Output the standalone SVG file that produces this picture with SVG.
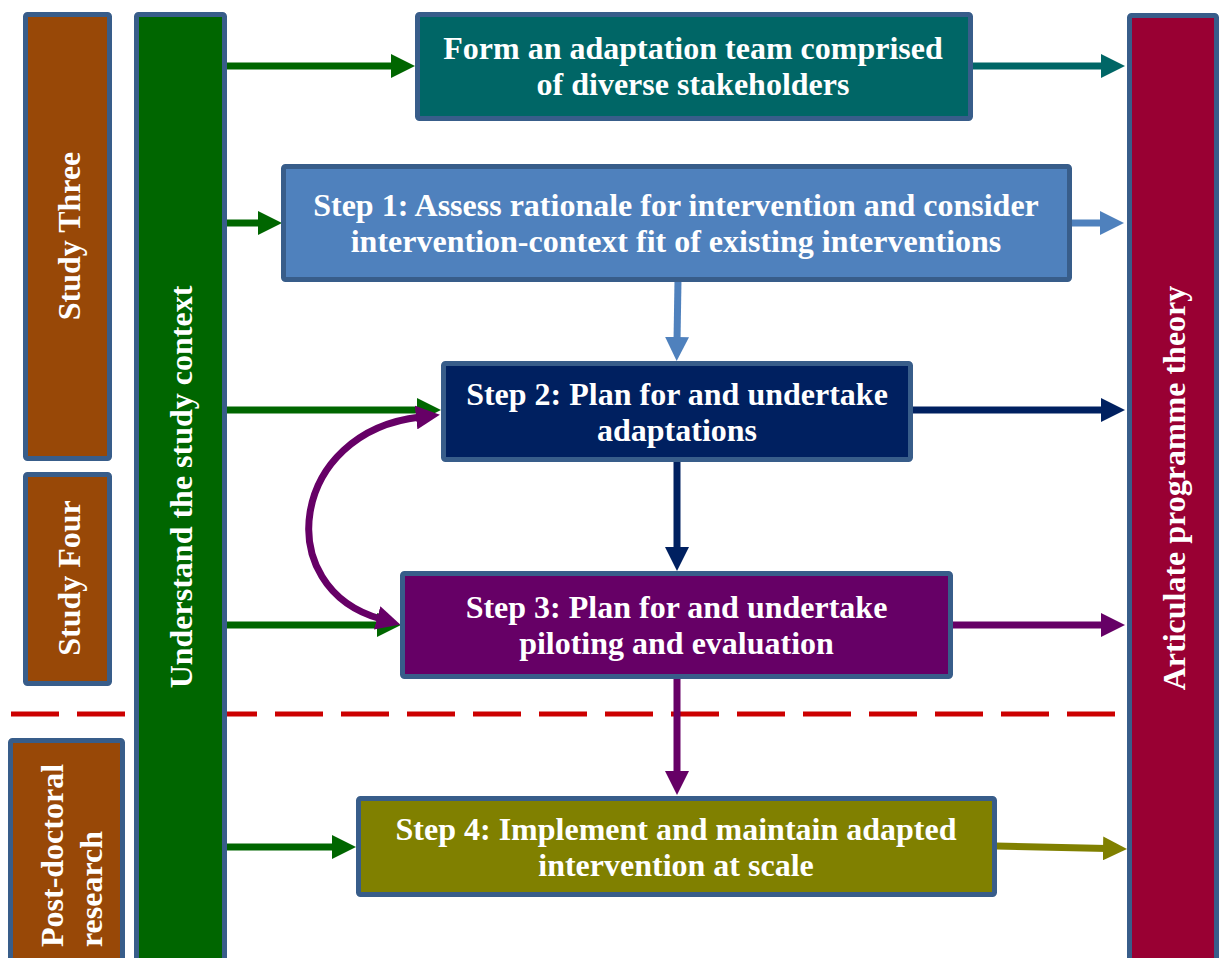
<svg xmlns="http://www.w3.org/2000/svg" width="1224" height="958" viewBox="0 0 1224 958">
  <style>
    .box { stroke: #385D8A; stroke-width: 5; }
    .lbl { font-family: "Liberation Serif", "Times New Roman", serif; font-weight: bold; font-size: 32px; fill: #FFFFFF; }
    .mid { text-anchor: middle; }
    .con { fill: none; stroke-width: 7; }
  </style>
  <defs>
    <marker id="ah-green" viewBox="0 0 24 24" refX="4" refY="12" markerWidth="24" markerHeight="24" markerUnits="userSpaceOnUse" orient="auto-start-reverse"><path d="M0,0 L24,12 L0,24 z" fill="#006600"/></marker>
    <marker id="ah-teal" viewBox="0 0 24 24" refX="4" refY="12" markerWidth="24" markerHeight="24" markerUnits="userSpaceOnUse" orient="auto-start-reverse"><path d="M0,0 L24,12 L0,24 z" fill="#006666"/></marker>
    <marker id="ah-blue" viewBox="0 0 24 24" refX="4" refY="12" markerWidth="24" markerHeight="24" markerUnits="userSpaceOnUse" orient="auto-start-reverse"><path d="M0,0 L24,12 L0,24 z" fill="#4F81BD"/></marker>
    <marker id="ah-navy" viewBox="0 0 24 24" refX="4" refY="12" markerWidth="24" markerHeight="24" markerUnits="userSpaceOnUse" orient="auto-start-reverse"><path d="M0,0 L24,12 L0,24 z" fill="#002060"/></marker>
    <marker id="ah-purple" viewBox="0 0 24 24" refX="4" refY="12" markerWidth="24" markerHeight="24" markerUnits="userSpaceOnUse" orient="auto-start-reverse"><path d="M0,0 L24,12 L0,24 z" fill="#660066"/></marker>
    <marker id="ah-olive" viewBox="0 0 24 24" refX="4" refY="12" markerWidth="24" markerHeight="24" markerUnits="userSpaceOnUse" orient="auto-start-reverse"><path d="M0,0 L24,12 L0,24 z" fill="#808000"/></marker>
  </defs>

  <rect width="1224" height="958" fill="#FFFFFF"/>

  <!-- phase divider -->
  <line x1="11" y1="714" x2="1115" y2="714" stroke="#CC0000" stroke-width="5" stroke-dasharray="48 18"/>

  <!-- study phase labels -->
  <g id="study-three">
    <rect class="box" x="25.5" y="14.5" width="84" height="444" rx="2" fill="#984807"/>
    <text class="lbl mid" transform="translate(80,236) rotate(-90)">Study Three</text>
  </g>
  <g id="study-four">
    <rect class="box" x="25.5" y="474.5" width="84" height="209" rx="2" fill="#984807"/>
    <text class="lbl mid" transform="translate(80,578) rotate(-90)">Study Four</text>
  </g>
  <g id="post-doctoral">
    <rect class="box" x="10.5" y="740.5" width="112" height="240" rx="2" fill="#984807"/>
    <text class="lbl" transform="translate(63,947) rotate(-90)">Post-doctoral</text>
    <text class="lbl" transform="translate(102,947) rotate(-90)">research</text>
  </g>

  <!-- connectors -->
  <g id="connectors">
    <line class="con" stroke="#006600" x1="226" y1="66" x2="395" y2="66" marker-end="url(#ah-green)"/>
    <line class="con" stroke="#006600" x1="226" y1="223" x2="262" y2="223" marker-end="url(#ah-green)"/>
    <line class="con" stroke="#006600" x1="226" y1="410" x2="421" y2="410" marker-end="url(#ah-green)"/>
    <line class="con" stroke="#006600" x1="226" y1="625" x2="381" y2="625" marker-end="url(#ah-green)"/>
    <line class="con" stroke="#006600" x1="226" y1="847" x2="336" y2="847" marker-end="url(#ah-green)"/>

    <line class="con" stroke="#006666" x1="972" y1="66" x2="1105" y2="66" marker-end="url(#ah-teal)"/>
    <line class="con" stroke="#4F81BD" x1="1071" y1="223" x2="1104" y2="223" marker-end="url(#ah-blue)"/>
    <line class="con" stroke="#002060" x1="912" y1="410" x2="1105" y2="410" marker-end="url(#ah-navy)"/>
    <line class="con" stroke="#660066" x1="952" y1="625" x2="1105" y2="625" marker-end="url(#ah-purple)"/>
    <line class="con" stroke="#808000" x1="996" y1="846" x2="1107" y2="848.5" marker-end="url(#ah-olive)"/>

    <line class="con" stroke="#4F81BD" x1="678" y1="280" x2="677" y2="341" marker-end="url(#ah-blue)"/>
    <line class="con" stroke="#002060" x1="677" y1="461" x2="677" y2="551" marker-end="url(#ah-navy)"/>
    <line class="con" stroke="#660066" x1="677" y1="678" x2="677" y2="775" marker-end="url(#ah-purple)"/>

    <!-- two-way loop between steps 2 and 3 -->
    <path class="con" stroke="#660066" d="M 420 417 C 290 432, 270 588, 381 619" marker-start="url(#ah-purple)" marker-end="url(#ah-purple)"/>
  </g>

  <!-- context and theory columns -->
  <g id="study-context">
    <rect class="box" x="136.5" y="14.5" width="88" height="960" rx="2" fill="#006600"/>
    <text class="lbl mid" transform="translate(192,487) rotate(-90)">Understand the study context</text>
  </g>
  <g id="programme-theory">
    <rect class="box" x="1129.5" y="15.5" width="87" height="960" rx="2" fill="#990033"/>
    <text class="lbl mid" transform="translate(1185,488) rotate(-90)">Articulate programme theory</text>
  </g>

  <!-- process steps -->
  <g id="adaptation-team">
    <rect class="box" x="417.5" y="14.5" width="553" height="104" rx="2" fill="#006666"/>
    <text class="lbl mid" x="693" y="59">Form an adaptation team comprised</text>
    <text class="lbl mid" x="693" y="95">of diverse stakeholders</text>
  </g>
  <g id="step-1">
    <rect class="box" x="283.5" y="166.5" width="786" height="113" rx="2" fill="#4F81BD"/>
    <text class="lbl mid" x="676" y="216">Step 1: Assess rationale for intervention and consider</text>
    <text class="lbl mid" x="676" y="252">intervention-context fit of existing interventions</text>
  </g>
  <g id="step-2">
    <rect class="box" x="443.5" y="363.5" width="467" height="96" rx="2" fill="#002060"/>
    <text class="lbl mid" x="677" y="405">Step 2: Plan for and undertake</text>
    <text class="lbl mid" x="677" y="441">adaptations</text>
  </g>
  <g id="step-3">
    <rect class="box" x="402.5" y="573.5" width="548" height="103" rx="2" fill="#660066"/>
    <text class="lbl mid" x="676.5" y="618">Step 3: Plan for and undertake</text>
    <text class="lbl mid" x="676.5" y="654">piloting and evaluation</text>
  </g>
  <g id="step-4">
    <rect class="box" x="358.5" y="798.5" width="636" height="96" rx="2" fill="#808000"/>
    <text class="lbl mid" x="676" y="840">Step 4: Implement and maintain adapted</text>
    <text class="lbl mid" x="676" y="876">intervention at scale</text>
  </g>
</svg>
